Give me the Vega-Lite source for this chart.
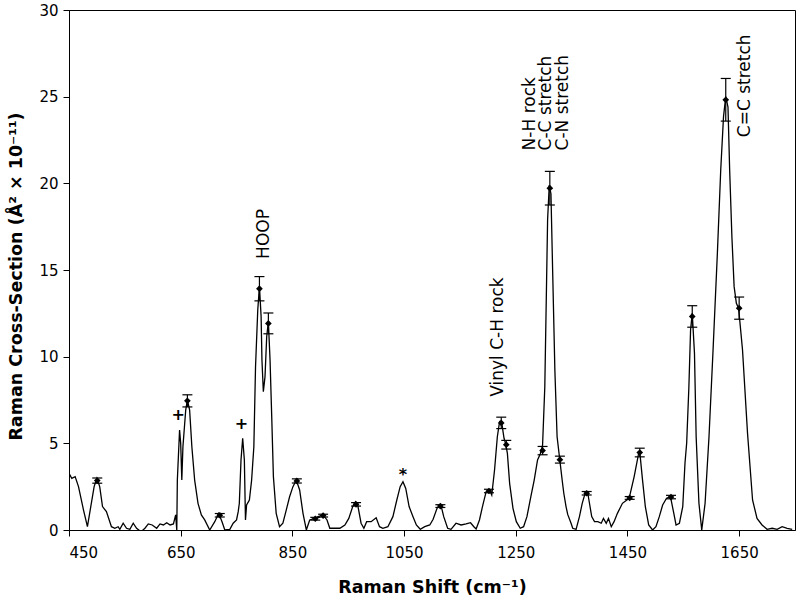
{
  "$schema": "https://vega.github.io/schema/vega-lite/v6.json",
  "width": 726,
  "height": 520,
  "autosize": {"type": "none"},
  "padding": {"left": 69, "top": 10, "right": 5, "bottom": 70},
  "background": "white",
  "config": {
    "view": {"stroke": "black", "strokeWidth": 1},
    "axis": {
      "domainColor": "black", "domainWidth": 1, "tickColor": "black", "tickSize": 6,
      "labelColor": "black", "titleColor": "black", "grid": false,
      "labelFont": "DejaVu Sans", "titleFont": "DejaVu Sans",
      "labelFontSize": 15, "titleFontSize": 17.5, "titleFontWeight": "bold"
    }
  },
  "datasets": {
    "spectrum": [
      {"x":450,"y":3.27},{"x":455,"y":2.98},{"x":461,"y":3.08},{"x":467,"y":2.5},{"x":476,"y":1.15},{"x":483,"y":0.19},{"x":489,"y":1.35},{"x":495,"y":2.5},{"x":500,"y":2.98},{"x":505,"y":2.5},{"x":510,"y":1.35},{"x":517,"y":1.06},{"x":526,"y":0.19},{"x":532,"y":0.1},{"x":538,"y":0.19},{"x":541,"y":0.04},{"x":547,"y":0.39},{"x":553,"y":0.1},{"x":559,"y":0.04},{"x":565,"y":0.39},{"x":571,"y":0.1},{"x":579,"y":-0.1},{"x":586,"y":0.1},{"x":592,"y":0.35},{"x":599,"y":0.29},{"x":607,"y":0.1},{"x":613,"y":0.35},{"x":619,"y":0.29},{"x":625,"y":0.42},{"x":631,"y":0.29},{"x":637,"y":0.35},{"x":641,"y":0.87},{"x":643,"y":0.0},{"x":644,"y":2.88},{"x":648,"y":5.77},{"x":650,"y":5.0},{"x":652,"y":2.88},{"x":654,"y":4.8},{"x":659,"y":6.92},{"x":662,"y":7.5},{"x":666,"y":6.92},{"x":670,"y":4.8},{"x":675,"y":2.88},{"x":681,"y":1.54},{"x":687,"y":0.87},{"x":693,"y":0.58},{"x":702,"y":0.0},{"x":711,"y":0.48},{"x":718,"y":0.96},{"x":724,"y":0.48},{"x":729,"y":0.0},{"x":738,"y":0.04},{"x":744,"y":0.39},{"x":750,"y":0.58},{"x":753,"y":1.06},{"x":755,"y":1.54},{"x":758,"y":4.04},{"x":761,"y":5.29},{"x":764,"y":4.04},{"x":766,"y":0.58},{"x":768,"y":1.44},{"x":773,"y":1.73},{"x":777,"y":2.88},{"x":781,"y":4.8},{"x":784,"y":9.42},{"x":788,"y":12.69},{"x":791,"y":14.04},{"x":794,"y":12.31},{"x":795.5,"y":9.81},{"x":798,"y":7.98},{"x":801,"y":8.85},{"x":804,"y":11.15},{"x":807,"y":12.02},{"x":810,"y":9.81},{"x":813,"y":6.54},{"x":816,"y":3.08},{"x":821,"y":0.96},{"x":827,"y":0.19},{"x":833,"y":0.39},{"x":839,"y":1.15},{"x":845,"y":1.92},{"x":851,"y":2.5},{"x":857,"y":2.88},{"x":863,"y":2.31},{"x":869,"y":0.96},{"x":875,"y":0.0},{"x":881,"y":0.58},{"x":890,"y":0.67},{"x":896,"y":0.77},{"x":905,"y":0.87},{"x":912,"y":0.58},{"x":917,"y":0.1},{"x":926,"y":0.1},{"x":935,"y":0.1},{"x":944,"y":0.29},{"x":951,"y":0.67},{"x":958,"y":1.35},{"x":963,"y":1.63},{"x":967,"y":1.44},{"x":973,"y":0.39},{"x":978,"y":0.1},{"x":983,"y":0.48},{"x":991,"y":0.48},{"x":1000,"y":0.71},{"x":1006,"y":0.19},{"x":1012,"y":0.1},{"x":1021,"y":0.19},{"x":1030,"y":0.77},{"x":1037,"y":1.73},{"x":1043,"y":2.5},{"x":1048,"y":2.79},{"x":1053,"y":2.4},{"x":1059,"y":1.35},{"x":1066,"y":0.77},{"x":1072,"y":0.29},{"x":1079,"y":0.04},{"x":1087,"y":0.19},{"x":1096,"y":0.29},{"x":1102,"y":0.62},{"x":1109,"y":1.25},{"x":1114,"y":1.42},{"x":1117,"y":1.3},{"x":1121,"y":0.77},{"x":1128,"y":0.1},{"x":1134,"y":0.04},{"x":1143,"y":0.39},{"x":1152,"y":0.29},{"x":1161,"y":0.35},{"x":1169,"y":0.42},{"x":1175,"y":0.19},{"x":1179,"y":0.06},{"x":1185,"y":0.58},{"x":1191,"y":1.44},{"x":1197,"y":2.21},{"x":1203,"y":2.31},{"x":1207,"y":2.02},{"x":1212,"y":3.46},{"x":1217,"y":5.38},{"x":1221,"y":6.25},{"x":1225,"y":6.15},{"x":1229,"y":5.29},{"x":1232,"y":4.96},{"x":1235,"y":4.42},{"x":1239,"y":2.69},{"x":1245,"y":1.25},{"x":1251,"y":0.48},{"x":1258,"y":0.1},{"x":1264,"y":0.19},{"x":1270,"y":0.77},{"x":1277,"y":1.92},{"x":1283,"y":2.88},{"x":1289,"y":4.04},{"x":1294,"y":4.4},{"x":1298,"y":4.9},{"x":1302,"y":8.27},{"x":1305,"y":14.04},{"x":1307,"y":17.9},{"x":1310,"y":19.9},{"x":1313,"y":19.4},{"x":1316,"y":15.0},{"x":1320,"y":9.23},{"x":1324,"y":5.38},{"x":1329,"y":4.0},{"x":1333,"y":2.9},{"x":1336,"y":2.12},{"x":1340,"y":1.35},{"x":1343,"y":0.9},{"x":1349,"y":0.39},{"x":1352,"y":0.1},{"x":1358,"y":0.04},{"x":1364,"y":0.77},{"x":1369,"y":1.54},{"x":1375,"y":2.21},{"x":1379,"y":2.12},{"x":1381,"y":1.73},{"x":1386,"y":0.77},{"x":1391,"y":0.48},{"x":1397,"y":0.48},{"x":1403,"y":0.39},{"x":1407,"y":0.67},{"x":1412,"y":0.39},{"x":1416,"y":0.67},{"x":1421,"y":0.19},{"x":1426,"y":0.48},{"x":1432,"y":0.96},{"x":1441,"y":1.54},{"x":1453,"y":1.83},{"x":1462,"y":3.08},{"x":1470,"y":4.42},{"x":1472,"y":4.52},{"x":1477,"y":2.88},{"x":1482,"y":1.35},{"x":1488,"y":0.29},{"x":1495,"y":0.0},{"x":1501,"y":0.19},{"x":1507,"y":0.77},{"x":1513,"y":1.44},{"x":1520,"y":1.83},{"x":1527,"y":1.92},{"x":1533,"y":0.96},{"x":1537,"y":0.29},{"x":1543,"y":0.39},{"x":1549,"y":1.35},{"x":1553,"y":3.85},{"x":1556,"y":5.0},{"x":1560,"y":8.27},{"x":1563,"y":11.54},{"x":1566,"y":12.5},{"x":1570,"y":10.2},{"x":1573,"y":5.38},{"x":1578,"y":1.54},{"x":1583,"y":0.0},{"x":1589,"y":1.54},{"x":1596,"y":5.38},{"x":1603,"y":10.2},{"x":1611,"y":15.96},{"x":1617,"y":20.77},{"x":1622,"y":23.85},{"x":1626,"y":25.0},{"x":1630,"y":24.4},{"x":1633,"y":20.77},{"x":1637,"y":16.92},{"x":1641,"y":14.04},{"x":1645,"y":13.08},{"x":1649,"y":12.8},{"x":1656,"y":10.4},{"x":1665,"y":5.58},{"x":1674,"y":1.73},{"x":1682,"y":0.67},{"x":1691,"y":0.29},{"x":1700,"y":0.04},{"x":1709,"y":0.1},{"x":1718,"y":0.04},{"x":1727,"y":0.19},{"x":1736,"y":0.1},{"x":1745,"y":0.04}
    ],
    "markers": [
      {"x":500.6,"y":2.85,"lo":2.7,"hi":3.0},
      {"x":662,"y":7.45,"lo":7.1,"hi":7.8},
      {"x":720,"y":0.85,"lo":0.75,"hi":0.95},
      {"x":791,"y":13.92,"lo":13.22,"hi":14.62},
      {"x":807,"y":11.92,"lo":11.32,"hi":12.52},
      {"x":858,"y":2.83,"lo":2.71,"hi":2.95},
      {"x":891,"y":0.65,"lo":0.57,"hi":0.73},
      {"x":905,"y":0.83,"lo":0.75,"hi":0.91},
      {"x":964,"y":1.48,"lo":1.38,"hi":1.58},
      {"x":1115,"y":1.38,"lo":1.3,"hi":1.46},
      {"x":1202,"y":2.25,"lo":2.15,"hi":2.35},
      {"x":1224,"y":6.18,"lo":5.85,"hi":6.51},
      {"x":1233,"y":4.92,"lo":4.67,"hi":5.17},
      {"x":1298,"y":4.58,"lo":4.34,"hi":4.82},
      {"x":1311,"y":19.72,"lo":18.75,"hi":20.69},
      {"x":1329,"y":4.06,"lo":3.86,"hi":4.26},
      {"x":1377,"y":2.12,"lo":2.02,"hi":2.22},
      {"x":1454,"y":1.85,"lo":1.77,"hi":1.93},
      {"x":1472,"y":4.47,"lo":4.22,"hi":4.72},
      {"x":1528,"y":1.9,"lo":1.8,"hi":2.0},
      {"x":1566,"y":12.32,"lo":11.7,"hi":12.94},
      {"x":1626,"y":24.82,"lo":23.59,"hi":26.05},
      {"x":1650,"y":12.8,"lo":12.16,"hi":13.44}
    ],
    "symbols": [
      {"x":645.5,"y":6.63,"label":"+"},
      {"x":759,"y":6.1,"label":"+"},
      {"x":1048,"y":3.2,"label":"*"}
    ],
    "labels": [
      {"x":799,"y":15.64,"label":"HOOP"},
      {"x":1217.6,"y":7.69,"label":"Vinyl C-H rock"},
      {"x":1275,"y":21.9,"label":"N-H rock"},
      {"x":1304,"y":21.9,"label":"C-C stretch"},
      {"x":1334,"y":21.9,"label":"C-N stretch"},
      {"x":1661,"y":22.66,"label":"C=C stretch"}
    ]
  },
  "layer": [
    {
      "data": {"name": "spectrum"},
      "mark": {"type": "line", "color": "black", "strokeWidth": 1.3, "clip": true},
      "encoding": {
        "x": {"field": "x", "type": "quantitative",
          "scale": {"domain": [450, 1750], "nice": false, "zero": false},
          "axis": {"values": [450, 650, 850, 1050, 1250, 1450, 1650], "format": "d", "title": "Raman Shift (cm⁻¹)",
            "labelPadding": 9, "titleY": 57, "titleBaseline": "middle", "titleAnchor": "middle"}},
        "y": {"field": "y", "type": "quantitative",
          "scale": {"domain": [0, 30], "nice": false},
          "axis": {"values": [0, 5, 10, 15, 20, 25, 30], "format": "d", "title": "Raman Cross-Section (Å² × 10⁻¹¹)",
            "labelPadding": 5, "titleX": -53, "titleY": 266, "titleAngle": 270,
            "titleAlign": "center", "titleBaseline": "middle"}}
      }
    },
    {
      "data": {"name": "markers"},
      "mark": {"type": "errorbar", "color": "black", "opacity": 1, "thickness": 1.2,
        "rule": {"color": "black", "opacity": 1, "strokeWidth": 1.2},
        "ticks": {"size": 10, "color": "black", "opacity": 1, "thickness": 1.2}},
      "encoding": {
        "x": {"field": "x", "type": "quantitative", "title": "Raman Shift (cm⁻¹)"},
        "y": {"field": "lo", "type": "quantitative", "title": "Raman Cross-Section (Å² × 10⁻¹¹)"},
        "y2": {"field": "hi"}
      }
    },
    {
      "data": {"name": "markers"},
      "mark": {"type": "point", "shape": "diamond", "filled": true, "color": "black", "size": 45, "opacity": 1},
      "encoding": {
        "x": {"field": "x", "type": "quantitative"},
        "y": {"field": "y", "type": "quantitative"}
      }
    },
    {
      "data": {"name": "symbols"},
      "mark": {"type": "text", "font": "DejaVu Sans", "fontSize": 16, "fontWeight": "bold", "color": "black", "align": "center", "baseline": "middle"},
      "encoding": {
        "x": {"field": "x", "type": "quantitative"},
        "y": {"field": "y", "type": "quantitative"},
        "text": {"field": "label"}
      }
    },
    {
      "data": {"name": "labels"},
      "mark": {"type": "text", "font": "DejaVu Sans", "fontSize": 17, "color": "black", "angle": 270, "align": "left", "baseline": "middle"},
      "encoding": {
        "x": {"field": "x", "type": "quantitative"},
        "y": {"field": "y", "type": "quantitative"},
        "text": {"field": "label"}
      }
    }
  ]
}
